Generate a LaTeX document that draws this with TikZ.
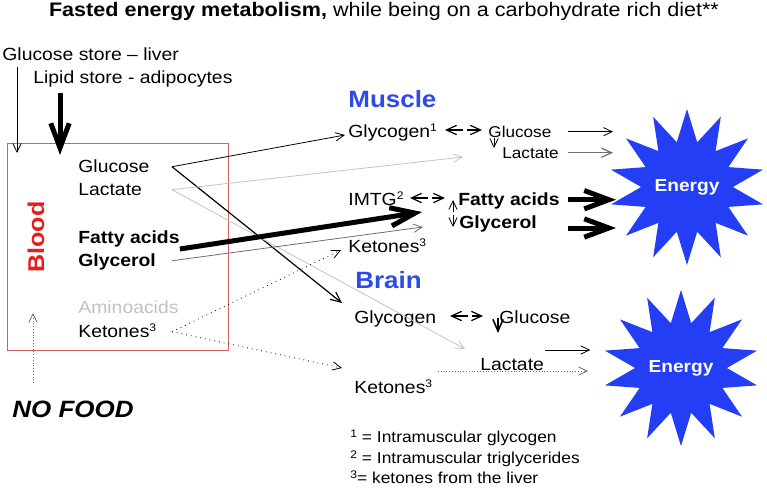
\documentclass[tikz,border=0pt]{standalone}
\usepackage{fontspec}
\setmainfont{Liberation Sans}[FakeStretch=1.1]
\usetikzlibrary{arrows.meta,calc,shapes.geometric}

\definecolor{starblue}{RGB}{35,62,245}
\definecolor{organblue}{RGB}{45,75,230}
\definecolor{bloodred}{RGB}{232,28,28}
\definecolor{boxred}{RGB}{215,95,95}
\definecolor{aminogray}{RGB}{190,194,194}
\definecolor{lightline}{RGB}{195,195,195}
\definecolor{midline}{RGB}{110,110,110}

\newcommand{\supn}[1]{\raisebox{0.55ex}{\fontsize{5.5}{6}\selectfont #1}}

\tikzset{
  lbl/.style={anchor=base west, inner sep=0pt, font=\fontsize{8.8}{10}\selectfont},
  lblb/.style={lbl, font=\fontsize{8.8}{10}\selectfont\bfseries},
  lbls/.style={lbl, font=\fontsize{7.8}{9}\selectfont},
  organ/.style={lbl, font=\fontsize{11.8}{14}\selectfont\bfseries, text=organblue},
  energy/.style={star, star points=14, star point ratio=1.7, minimum size=72pt,
    inner sep=0pt, fill=starblue, text=white, font=\fontsize{8.7}{10}\selectfont\bfseries},
  arr/.style={-{Straight Barb[length=2.8pt 3.8,width=3.2pt 2.4]}, line width=0.4pt},
  thickarr/.style={arr, line width=2.5pt},
  dbl/.style={{Straight Barb[length=2.8pt 3.8,width=3.2pt 2.4]}-{Straight Barb[length=2.8pt 3.8,width=3.2pt 2.4]},
    line width=0.6pt, dash pattern=on 8pt off 2pt},
}

\begin{document}
\begin{tikzpicture}[x=0.5pt, y=-0.5pt]
  \useasboundingbox (0,0) rectangle (767,489);

  \node[anchor=base, font=\fontsize{9.8}{12}\selectfont] (title) at (384,16)
    {\textbf{Fasted energy metabolism,} while being on a carbohydrate rich diet**};

  \node[lbl] (liver) at (2,60) {Glucose store – liver};
  \node[lbl] (adipo) at (33,83) {Lipid store - adipocytes};

  % blood
  \node[draw=boxred, line width=0.5pt, minimum width=110.5pt, minimum height=103.5pt,
    inner sep=0pt, anchor=north west] (bbox) at (7,143) {};
  \node[rotate=90, text=bloodred, font=\fontsize{11.4}{13}\selectfont\bfseries] (blood) at (36,237) {Blood};
  \node[lbl] (gluBl) at (78,172) {Glucose};
  \node[lbl] (lacBl) at (78,195) {Lactate};
  \node[lblb] (fatBl) at (78,243) {Fatty acids};
  \node[lblb] (gcrBl) at (78,266) {Glycerol};
  \node[lbl, text=aminogray] (amiBl) at (78,313) {Aminoacids};
  \node[lbl] (ketBl) at (78,337) {Ketones\supn{3}};
  \node[lbl, font=\fontsize{11.8}{14}\selectfont\bfseries\itshape] (nofood) at (12,417) {NO FOOD};

  % muscle
  \node[organ] (muscle) at (348,107) {Muscle};
  \node[lbl] (gygMu) at (348,137) {Glycogen\supn{1}};
  \node[lbls] (gluMu) at (488,137) {Glucose};
  \node[lbls] (lacMu) at (502,158) {Lactate};
  \node[lbl] (imtgMu) at (348,205) {IMTG\supn{2}};
  \node[lblb] (fatMu) at (458,205) {Fatty acids};
  \node[lblb] (gcrMu) at (459,228) {Glycerol};
  \node[lbl] (ketMu) at (348,252) {Ketones\supn{3}};

  % brain
  \node[organ] (brain) at (355,288) {Brain};
  \node[lbl] (gygBr) at (354,323) {Glycogen};
  \node[lbl] (gluBr) at (499,323) {Glucose};
  \node[lbl] (lacBr) at (480,370) {Lactate};
  \node[lbl] (ketBr) at (354,393) {Ketones\supn{3}};

  \node[energy] (en1) at (687,187) {Energy};
  \node[energy] (en2) at (681,368) {Energy};

  \node[lbl, font=\fontsize{7.9}{9}\selectfont] (fn1) at (350,442) {\supn{1} = Intramuscular glycogen};
  \node[lbl, font=\fontsize{7.9}{9}\selectfont] (fn2) at (350,463) {\supn{2} = Intramuscular triglycerides};
  \node[lbl, font=\fontsize{7.9}{9}\selectfont] (fn3) at (350,483) {\supn{3}= ketones from the liver};

  \coordinate (outx) at (172,0);
  \coordinate (srcx) at (568,0);
  \coordinate (enx) at (613,0);
  \coordinate (enxt) at (616,0);

  \draw[arr] ($(liver.base west)+(15,7)$) -- ($(bbox.north west)+(10,10)$);
  \draw[thickarr] ($(adipo.base west)+(27,10)$) -- ($(bbox.north west)+(53,12)$);
  \draw[arr, densely dotted, midline] ($(nofood.base west)+(21,-34)$) -- ($(bbox.south west)+(26,-38)$);

  \draw[arr] (gluBl.mid -| outx) -- ($(gygMu.base west)+(-3,-2)$);
  \draw[arr, line width=0.6pt] (gluBl.mid -| outx) -- ($(gygBr.base west)+(-12,-20)$);
  \draw[arr, lightline] (lacBl.mid -| outx) -- ($(lacMu.base west)+(-39,-1)$);
  \draw[arr, lightline] (lacBl.mid -| outx) -- ($(lacBr.base west)+(-15,-21)$);
  \draw[thickarr] ($(fatBl.base east)+(0,6)$) -- ($(fatMu.base west)+(-36,7)$);
  \draw[arr, midline] (gcrBl.mid -| outx) -- ($(gcrMu.base west)+(-36,-1)$);
  \draw[arr, dotted] (ketBl.mid -| outx) -- ($(ketMu.base west)+(-7,-2)$);
  \draw[arr, dotted] (ketBl.mid -| outx) -- ($(ketBr.base west)+(-12,-25)$);

  \draw[dbl] ($(gluMu.base west)+(-43,-7)$) -- ($(gluMu.base west)+(-6,-7)$);
  \draw[arr] ($(gluMu.base west)+(6,1)$) -- ($(lacMu.base west)+(-8,-10)$);
  \draw[dbl] ($(fatMu.base west)+(-48,-7)$) -- ($(fatMu.base west)+(-13,-7)$);
  \draw[arr] ($(gcrMu.base west)+(-6,-16)$) -- ($(fatMu.base west)+(-5,-5)$);
  \draw[arr] ($(fatMu.base west)+(-5,10)$) -- ($(gcrMu.base west)+(-6,-1)$);

  \draw[arr] (gluMu.mid -| srcx) -- (gluMu.mid -| enx);
  \draw[arr, midline, line width=0.6pt] (lacMu.mid -| srcx) -- (lacMu.mid -| enx);
  \draw[thickarr] (fatMu.mid -| srcx) -- (fatMu.mid -| enxt);
  \draw[thickarr] (gcrMu.base -| srcx) -- (gcrMu.base -| enxt);

  \draw[dbl] ($(gluBr.base west)+(-49,-7)$) -- ($(gluBr.base west)+(-16,-7)$);
  \draw[arr, line width=0.8pt] ($(gluBr.base west)+(-1,-5)$) -- ($(lacBr.base west)+(18,-37)$);
  \draw[arr] ($(lacBr.base east)+(1,-20)$) -- ++(45,0);
  \draw[arr, densely dotted, midline] ($(ketBr.base west)+(84,-22)$) -- ++(150,0);
\end{tikzpicture}
\end{document}
